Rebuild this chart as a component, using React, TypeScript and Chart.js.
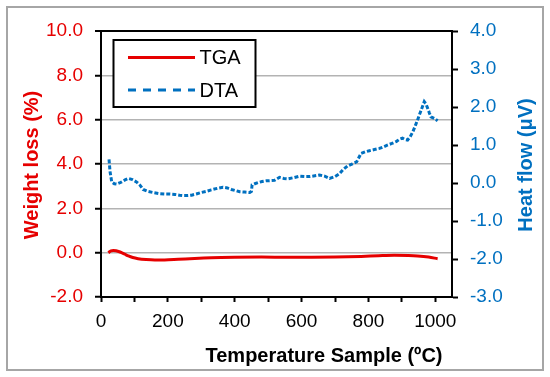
import React, { useEffect, useRef } from 'react';
import { Chart, registerables } from 'chart.js';

Chart.register(...registerables);

const seriesNames = ['TGA', 'DTA'];
const xTitle = 'Temperature Sample (ºC)';
const yLeftTitle = 'Weight loss (%)';
const yRightTitle = 'Heat flow (μV)';

const xMin = 0;
const xMax = 1050;
const xStep = 100;
const xLabelEvery = 200;
const yLeftMin = -2;
const yLeftMax = 10;
const yLeftStep = 2;
const yRightMin = -3;
const yRightMax = 4;
const yRightStep = 1;

const tgaTemps = [22, 30, 37, 45, 57, 70, 82, 95, 111, 135, 161, 190, 231, 280, 330, 400, 480, 560, 629, 700, 778, 830, 877, 920, 947, 980, 1007];
const tgaValues = [0.0, 0.08, 0.1, 0.09, 0.03, -0.06, -0.15, -0.22, -0.27, -0.31, -0.33, -0.33, -0.3, -0.26, -0.23, -0.21, -0.2, -0.21, -0.21, -0.2, -0.17, -0.14, -0.12, -0.13, -0.15, -0.2, -0.27];

const dtaTemps = [24, 27, 32, 40, 47, 55, 62, 72, 82, 94, 106, 116, 126, 140, 156, 175, 191, 206, 221, 235, 246, 259, 271, 285, 300, 315, 330, 348, 365, 378, 390, 403, 415, 430, 445, 450, 452, 460, 470, 482, 495, 504, 519, 534, 547, 559, 576, 594, 609, 624, 640, 654, 669, 684, 700, 713, 725, 738, 752, 765, 778, 790, 803, 818, 833, 845, 858, 870, 883, 893, 902, 910, 917, 925, 933, 940, 947, 957, 967, 972, 977, 982, 987, 997, 1007];
const dtaValues = [0.62, 0.3, 0.03, -0.02, -0.03, 0.0, 0.03, 0.08, 0.12, 0.09, 0.03, -0.05, -0.17, -0.22, -0.25, -0.28, -0.29, -0.29, -0.3, -0.32, -0.33, -0.33, -0.32, -0.29, -0.25, -0.22, -0.18, -0.14, -0.11, -0.13, -0.17, -0.2, -0.23, -0.24, -0.25, -0.22, -0.05, -0.02, 0.01, 0.04, 0.06, 0.06, 0.07, 0.15, 0.12, 0.11, 0.14, 0.18, 0.17, 0.17, 0.19, 0.21, 0.18, 0.12, 0.17, 0.24, 0.36, 0.45, 0.5, 0.56, 0.78, 0.82, 0.85, 0.88, 0.91, 0.95, 1.0, 1.04, 1.09, 1.15, 1.18, 1.14, 1.13, 1.22, 1.35, 1.5, 1.66, 1.9, 2.14, 2.08, 1.97, 1.85, 1.74, 1.7, 1.64];

const RED = '#e60000';
const BLUE = '#0070c0';
const FONT = "'Liberation Sans', Arial, Helvetica, sans-serif";

const decorPlugin = {
  id: 'decor',
  beforeDraw(chart: any) {
    const ctx = chart.ctx;
    ctx.save();
    ctx.fillStyle = '#ffffff';
    ctx.fillRect(0, 0, chart.width, chart.height);
    ctx.strokeStyle = '#a6a6a6';
    ctx.lineWidth = 2;
    ctx.strokeRect(7, 7, 536, 363);
    ctx.restore();
  },
  afterDraw(chart: any) {
    const ctx = chart.ctx;
    const area = chart.chartArea;
    ctx.save();
    // axis titles
    ctx.font = `bold 20px ${FONT}`;
    ctx.textAlign = 'center';
    ctx.textBaseline = 'alphabetic';
    ctx.fillStyle = '#000000';
    ctx.fillText(xTitle, 324, 362);

    const midY = (area.top + area.bottom) / 2 + 1;
    ctx.save();
    ctx.translate(38, midY);
    ctx.rotate(-Math.PI / 2);
    ctx.fillStyle = RED;
    ctx.fillText(yLeftTitle, 0, 0);
    ctx.restore();

    ctx.save();
    ctx.translate(532, midY);
    ctx.rotate(-Math.PI / 2);
    ctx.fillStyle = BLUE;
    ctx.fillText(yRightTitle, 0, 0);
    ctx.restore();

    // legend
    const bx = 113.5, by = 40, bw = 142, bh = 67;
    ctx.fillStyle = '#ffffff';
    ctx.fillRect(bx, by, bw, bh);
    ctx.strokeStyle = '#000000';
    ctx.lineWidth = 2;
    ctx.strokeRect(bx, by, bw, bh);

    const items = [
      { name: seriesNames[0], color: RED, dash: [] as number[], y: 57.5 },
      { name: seriesNames[1], color: BLUE, dash: [8, 7], y: 90 },
    ];
    ctx.font = `20px ${FONT}`;
    ctx.textAlign = 'left';
    ctx.textBaseline = 'middle';
    items.forEach((it) => {
      ctx.beginPath();
      ctx.setLineDash(it.dash);
      ctx.strokeStyle = it.color;
      ctx.lineWidth = 3;
      ctx.moveTo(128, it.y);
      ctx.lineTo(195, it.y);
      ctx.stroke();
      ctx.setLineDash([]);
      ctx.fillStyle = '#000000';
      ctx.fillText(it.name, 199.5, it.y + 1);
    });
    ctx.restore();
  },
};

export default function App() {
  const canvasRef = useRef<HTMLCanvasElement | null>(null);

  useEffect(() => {
    document.body.style.margin = '0';
    const canvas = canvasRef.current;
    if (!canvas) return;

    const tgaData = tgaTemps.map((t, i) => ({ x: t, y: tgaValues[i] }));
    const dtaData = dtaTemps.map((t, i) => ({ x: t, y: dtaValues[i] }));

    const chart = new Chart(canvas, {
      type: 'line',
      data: {
        datasets: [
          {
            label: seriesNames[0],
            data: tgaData,
            yAxisID: 'y',
            borderColor: RED,
            backgroundColor: RED,
            borderWidth: 3,
            pointRadius: 0,
            cubicInterpolationMode: 'monotone',
            fill: false,
          },
          {
            label: seriesNames[1],
            data: dtaData,
            yAxisID: 'y1',
            borderColor: BLUE,
            backgroundColor: BLUE,
            borderWidth: 3,
            borderDash: [4, 2],
            pointRadius: 0,
            tension: 0,
            fill: false,
          },
        ],
      },
      options: {
        animation: false,
        responsive: false,
        maintainAspectRatio: false,
        devicePixelRatio: 1,
        layout: { padding: { top: 31, left: 0, right: 0, bottom: 0 } },
        plugins: {
          legend: { display: false },
          tooltip: { enabled: false },
          title: { display: false },
        },
        scales: {
          x: {
            type: 'linear',
            position: 'bottom',
            min: xMin,
            max: xMax,
            afterFit: (s: any) => { s.height = 80; },
            border: { color: '#000000', width: 2 },
            grid: {
              drawOnChartArea: false,
              drawTicks: true,
              tickLength: 5,
              tickColor: '#000000',
              tickWidth: 2,
            },
            ticks: {
              stepSize: xStep,
              includeBounds: false,
              autoSkip: false,
              maxRotation: 0,
              padding: 8,
              color: '#000000',
              font: { family: FONT, size: 19 },
              callback: (v: any) => (Number(v) % xLabelEvery === 0 ? String(v) : ''),
            },
          },
          y: {
            type: 'linear',
            position: 'left',
            min: yLeftMin,
            max: yLeftMax,
            afterFit: (s: any) => { s.width = 101; },
            border: { color: '#000000', width: 2 },
            grid: {
              color: (c: any) => (c.tick && (c.tick.value === yLeftMax || c.tick.value === yLeftMin) ? '#000000' : '#b3b3b3'),
              lineWidth: (c: any) => (c.tick && c.tick.value === yLeftMax ? 2 : 1.5),
              drawTicks: true,
              tickLength: 6,
              tickColor: '#000000',
              tickWidth: 2,
            },
            ticks: {
              stepSize: yLeftStep,
              padding: 12,
              color: RED,
              font: { family: FONT, size: 19 },
              callback: (v: any) => Number(v).toFixed(1),
            },
          },
          y1: {
            type: 'linear',
            position: 'right',
            min: yRightMin,
            max: yRightMax,
            afterFit: (s: any) => { s.width = 98; },
            border: { color: '#000000', width: 2 },
            grid: {
              drawOnChartArea: false,
              drawTicks: true,
              tickLength: 6,
              tickColor: '#000000',
              tickWidth: 2,
            },
            ticks: {
              stepSize: yRightStep,
              padding: 12,
              color: BLUE,
              font: { family: FONT, size: 19 },
              callback: (v: any) => Number(v).toFixed(1),
            },
          },
        },
      },
      plugins: [decorPlugin],
    } as any);

    return () => {
      chart.destroy();
    };
  }, []);

  return (
    <div style={{ position: 'absolute', left: 0, top: 0, width: 550, height: 377 }}>
      <canvas ref={canvasRef} width={550} height={377} style={{ display: 'block' }} />
    </div>
  );
}
